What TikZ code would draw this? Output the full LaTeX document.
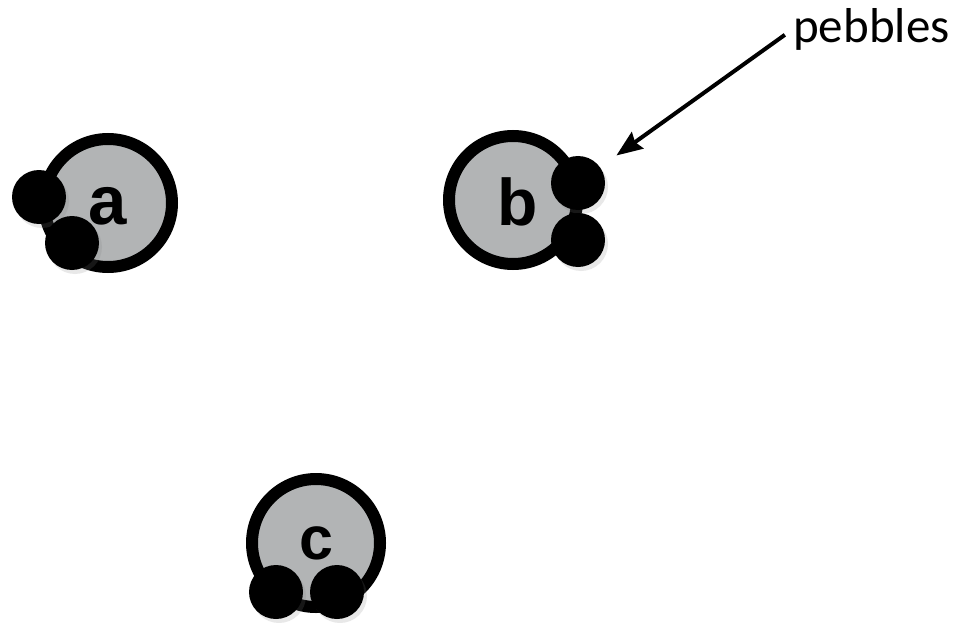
\documentclass[tikz,border=0pt]{standalone}
\usepackage{fontspec}
\setmainfont{Liberation Sans}
\newfontfamily\calib{Carlito}
\usetikzlibrary{shadows,arrows.meta}
\definecolor{discgray}{RGB}{178,180,181}
\begin{document}
\begin{tikzpicture}[x=1pt,y=-1pt,
  disc/.style={circle, draw=black, line width=12pt, fill=discgray, minimum size=128pt, inner sep=0pt,
    font=\bfseries,
    drop shadow={opacity=0.18, shadow xshift=3pt, shadow yshift=-4pt}},
  pebble/.style={circle, fill=black, minimum size=54pt, inner sep=0pt,
    drop shadow={opacity=0.18, shadow xshift=3pt, shadow yshift=-4pt}},
  letter/.style={font=\bfseries, inner sep=0pt},
  label/.style={font=\calib\fontsize{49}{49}\selectfont, inner sep=0pt},
  pointer/.style={line width=4pt, -{Stealth[length=26pt,width=20pt,inset=3pt]}}]
\useasboundingbox (0,0) rectangle (961,623);
% discs
\node[disc] (a) at (108,203) {};
\node[disc] (b) at (513,200) {};
\node[disc] (c) at (316,543) {};
% letters
\node[letter, font=\fontsize{69}{69}\selectfont\bfseries] (la) at (107.5,206.5) {a};
\node[letter, font=\fontsize{66}{66}\selectfont\bfseries] (lb) at (518,201.5) {b};
\node[letter, font=\fontsize{61}{61}\selectfont\bfseries] (lc) at (316,543) {c};
% pebbles
\node[pebble] (a1) at (39,197) {};
\node[pebble] (a2) at (72,243) {};
\node[pebble] (b1) at (578,183) {};
\node[pebble] (b2) at (578,240) {};
\node[pebble] (c1) at (276,592) {};
\node[pebble] (c2) at (337,592) {};
% label
\node[label, anchor=west] (p) at (793,29) {pebbles};
\draw[pointer, shorten <=10pt, shorten >=20pt] (p.west) -- (b1);
\end{tikzpicture}
\end{document}
